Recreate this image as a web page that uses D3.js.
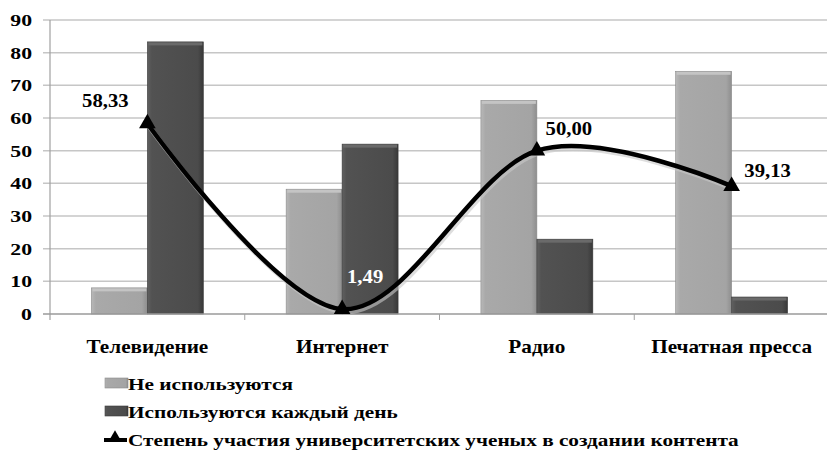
<!DOCTYPE html>
<html>
<head>
<meta charset="utf-8">
<script src="https://cdn.jsdelivr.net/npm/d3@7"></script>
<style>
  html, body { margin: 0; padding: 0; background: #fff; }
  svg { display: block; }
</style>
</head>
<body>
<svg width="827" height="456"></svg>
<script>
// data
const categories = ["Телевидение", "Интернет", "Радио", "Печатная пресса"];
const notUsed = [8, 38.2, 65.4, 74.3];
const usedDaily = [83.3, 52, 22.9, 5.2];
const participation = [58.33, 1.49, 50.00, 39.13];
const participationLabels = ["58,33", "1,49", "50,00", "39,13"];
const seriesNames = ["Не используются", "Используются каждый день",
  "Степень участия университетских ученых в создании контента"];
const yTicks = [0, 10, 20, 30, 40, 50, 60, 70, 80, 90];

const svg = d3.select("svg");
const serif = "Liberation Serif";

const margin = {left: 50, right: 829, top: 20, bottom: 314};

const x = d3.scaleBand()
  .domain(categories)
  .range([margin.left, margin.right]);

const x1 = d3.scaleBand()
  .domain(["notUsed", "usedDaily"])
  .range([0, x.bandwidth()])
  .paddingOuter(0.74);

const y = d3.scaleLinear()
  .domain([0, 90])
  .range([margin.bottom, margin.top]);

// gradients for the bevelled bars
const defs = svg.append("defs");
function grad(id, stops) {
  const g = defs.append("linearGradient").attr("id", id)
    .attr("x1", 0).attr("x2", 1).attr("y1", 0).attr("y2", 0);
  stops.forEach(s => g.append("stop").attr("offset", s[0]).attr("stop-color", s[1]));
}
grad("gLight", [[0, "#b8b8b8"], [0.08, "#a9a9a9"], [0.9, "#a4a4a4"], [1, "#8e8e8e"]]);
grad("gDark", [[0, "#606060"], [0.08, "#525252"], [0.9, "#4b4b4b"], [1, "#383838"]]);

// grid
svg.append("g")
  .selectAll("line")
  .data(yTicks.filter(d => d > 0))
  .join("line")
  .attr("x1", 43).attr("x2", 827)
  .attr("y1", d => y(d)).attr("y2", d => y(d))
  .attr("stroke", "#c6c6c6")
  .attr("stroke-width", 1.5);

// y axis
svg.append("line")
  .attr("x1", margin.left).attr("x2", margin.left)
  .attr("y1", y(90)).attr("y2", y(0) + 6)
  .attr("stroke", "#a0a0a0").attr("stroke-width", 1.2);

svg.append("g")
  .selectAll("text")
  .data(yTicks)
  .join("text")
  .attr("transform", d => `translate(32,${y(d) + 6}) scale(1.28,1)`)
  .attr("text-anchor", "end")
  .attr("font-family", serif).attr("font-weight", "bold")
  .attr("font-size", 17)
  .text(d => d);

// bars
const groups = svg.append("g")
  .selectAll("g")
  .data(categories)
  .join("g")
  .attr("transform", d => `translate(${x(d)},0)`);

groups.append("rect")
  .attr("x", x1("notUsed"))
  .attr("width", x1.bandwidth())
  .attr("y", (d, i) => y(notUsed[i]))
  .attr("height", (d, i) => y(0) - y(notUsed[i]))
  .attr("fill", "url(#gLight)")
  .attr("stroke", "#8a8a8a").attr("stroke-width", 0.6);

groups.append("rect")
  .attr("x", x1("usedDaily"))
  .attr("width", x1.bandwidth())
  .attr("y", (d, i) => y(usedDaily[i]))
  .attr("height", (d, i) => y(0) - y(usedDaily[i]))
  .attr("fill", "url(#gDark)")
  .attr("stroke", "#3a3a3a").attr("stroke-width", 0.6);

// top highlights
groups.append("rect")
  .attr("x", x1("notUsed") + 1)
  .attr("width", x1.bandwidth() - 2)
  .attr("y", (d, i) => y(notUsed[i]) + 0.5)
  .attr("height", 3)
  .attr("fill", "#c4c4c4");
groups.append("rect")
  .attr("x", x1("usedDaily") + 1)
  .attr("width", x1.bandwidth() - 2)
  .attr("y", (d, i) => y(usedDaily[i]) + 0.5)
  .attr("height", 3)
  .attr("fill", "#6a6a6a");

// x axis
svg.append("line")
  .attr("x1", 43).attr("x2", 827)
  .attr("y1", y(0)).attr("y2", y(0))
  .attr("stroke", "#9a9a9a").attr("stroke-width", 1.5);

svg.append("g")
  .selectAll("line")
  .data(categories.slice(1))
  .join("line")
  .attr("x1", d => x(d)).attr("x2", d => x(d))
  .attr("y1", y(0)).attr("y2", y(0) + 6)
  .attr("stroke", "#a0a0a0");

svg.append("g")
  .selectAll("text")
  .data(categories)
  .join("text")
  .attr("transform", d => `translate(${x(d) + x.bandwidth() / 2},353) scale(1.18,1)`)
  .attr("text-anchor", "middle")
  .attr("font-family", serif).attr("font-weight", "bold")
  .attr("font-size", 18)
  .text(d => d);

// smoothed line
const pts = categories.map((c, i) => [x(c) + x.bandwidth() / 2, y(participation[i])]);
const line = d3.line().curve(d3.curveCardinal.tension(0));

svg.append("path")
  .attr("d", line(pts))
  .attr("fill", "none")
  .attr("stroke", "#c8c8c8")
  .attr("stroke-width", 5)
  .attr("transform", "translate(1.5,2.5)")
  .attr("opacity", 0.6);

svg.append("path")
  .attr("d", line(pts))
  .attr("fill", "none")
  .attr("stroke", "#000")
  .attr("stroke-width", 4.5);

const tri = d3.symbol().type(d3.symbolTriangle).size(120);
svg.append("g")
  .selectAll("path")
  .data(pts)
  .join("path")
  .attr("d", tri)
  .attr("transform", d => `translate(${d[0]},${d[1]})`)
  .attr("fill", "#000");

// value labels
const labelNudge = [[-42, -16], [23, -26], [32, -16], [36, -9]];
svg.append("g")
  .selectAll("text")
  .data(pts)
  .join("text")
  .attr("transform", (d, i) => `translate(${d[0] + labelNudge[i][0]},${d[1] + labelNudge[i][1]}) scale(1.15,1)`)
  .attr("text-anchor", "middle")
  .attr("font-family", serif).attr("font-weight", "bold")
  .attr("font-size", 18)
  .attr("fill", (d, i) => i === 1 ? "#fff" : "#000")
  .text((d, i) => participationLabels[i]);

// legend
const legend = svg.append("g");
const rowY = [390, 418, 446];

legend.append("rect")
  .attr("x", 105).attr("y", rowY[0] - 12).attr("width", 23).attr("height", 10)
  .attr("fill", "url(#gLight)").attr("stroke", "#8a8a8a").attr("stroke-width", 0.6);
legend.append("rect")
  .attr("x", 105).attr("y", rowY[1] - 12).attr("width", 23).attr("height", 10)
  .attr("fill", "url(#gDark)").attr("stroke", "#3a3a3a").attr("stroke-width", 0.6);
legend.append("line")
  .attr("x1", 104).attr("x2", 127)
  .attr("y1", rowY[2] - 6).attr("y2", rowY[2] - 6)
  .attr("stroke", "#000").attr("stroke-width", 4);
legend.append("path")
  .attr("d", d3.symbol().type(d3.symbolTriangle).size(80))
  .attr("transform", `translate(115,${rowY[2] - 8})`)
  .attr("fill", "#000");

legend.selectAll("text")
  .data(seriesNames)
  .join("text")
  .attr("transform", (d, i) => `translate(128,${rowY[i]}) scale(1.25,1)`)
  .attr("font-family", serif).attr("font-weight", "bold")
  .attr("font-size", 17)
  .text(d => d);
</script>
</body>
</html>
